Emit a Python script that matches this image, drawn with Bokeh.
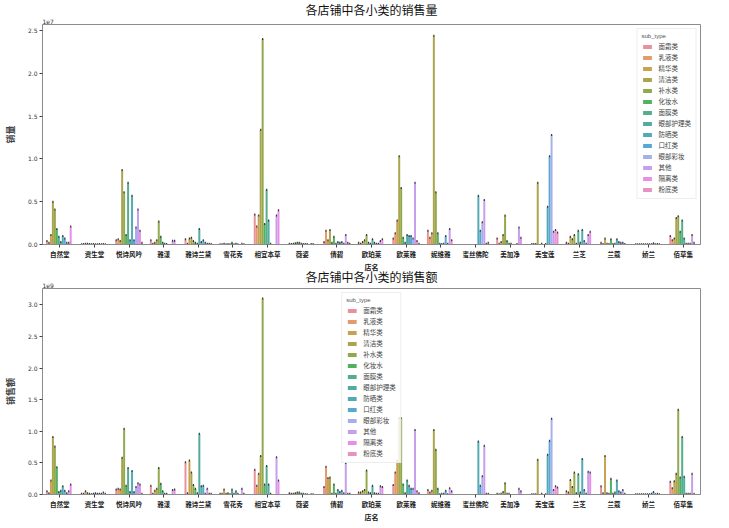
from bokeh.plotting import figure
from bokeh.models import (ColumnDataSource, FixedTicker, Legend, LegendItem, Title,
                          Range1d, NumeralTickFormatter)
from bokeh.layouts import column
from bokeh.embed import file_html
from bokeh.resources import INLINE

stores = ["自然堂", "资生堂", "悦诗风吟", "雅漾", "雅诗兰黛", "雪花秀", "相宜本草", "薇姿",
          "倩碧", "欧珀莱", "欧莱雅", "妮维雅", "蜜丝佛陀", "美加净", "美宝莲", "兰芝",
          "兰蔻", "娇兰", "佰草集"]

sub_types = ["面霜类", "乳液类", "精华类", "清洁类", "补水类", "化妆水", "面膜类",
             "眼部护理类", "防晒类", "口红类", "眼部彩妆", "其他", "隔离类", "粉底类"]

colors = ["#e8919c", "#e39a6c", "#c8a152", "#aba44c", "#90a94d", "#52b161", "#54ad8c",
          "#51ab9f", "#53aab4", "#5aa7d4", "#a4b0ec", "#c69eea", "#e78fe7", "#e693c1"]

# 销量 (units of 1e7), one row per store, one column per sub_type
volume = [
    [0.04, 0.02, 0.11, 0.50, 0.41, 0.18, 0.09, 0.03, 0.10, 0.07, 0.02, 0.02, 0.21, 0],
    [0.003, 0.005, 0.01, 0.01, 0.005, 0.003, 0.005, 0.003, 0.003, 0.005, 0.003, 0.005, 0.003, 0],
    [0.05, 0.06, 0.04, 0.87, 0.61, 0.11, 0.72, 0.05, 0.57, 0.05, 0.20, 0.41, 0.16, 0.02],
    [0.05, 0.01, 0.02, 0.05, 0.27, 0.09, 0.02, 0.01, 0.005, 0, 0, 0.045, 0.045, 0],
    [0.06, 0.01, 0.07, 0.08, 0.04, 0.02, 0.01, 0.18, 0.03, 0.05, 0.02, 0.01, 0.01, 0.005],
    [0.003, 0.003, 0.01, 0.003, 0.005, 0.002, 0.02, 0.003, 0.01, 0.003, 0, 0.01, 0.003, 0],
    [0.35, 0.21, 0.34, 1.34, 2.40, 0.24, 0.64, 0.28, 0.01, 0, 0, 0.34, 0.40, 0],
    [0.01, 0.005, 0.01, 0.015, 0.02, 0.02, 0.01, 0.005, 0.005, 0.005, 0, 0.005, 0.005, 0],
    [0.03, 0.16, 0.05, 0.17, 0.02, 0.09, 0.01, 0.03, 0.02, 0.03, 0.01, 0.11, 0.02, 0.01],
    [0.02, 0.01, 0.03, 0.05, 0.11, 0.02, 0.01, 0.06, 0.02, 0.01, 0.01, 0.04, 0.06, 0],
    [0.07, 0.13, 0.28, 1.03, 0.66, 0.08, 0.02, 0.11, 0.10, 0.10, 0.07, 0.72, 0.04, 0.01],
    [0.16, 0.08, 0.13, 2.44, 0.61, 0.13, 0.01, 0.005, 0.01, 0.10, 0.01, 0.18, 0.05, 0],
    [0, 0, 0, 0, 0, 0, 0, 0, 0.57, 0.16, 0.26, 0.52, 0.01, 0.02],
    [0.07, 0.01, 0.03, 0.11, 0.34, 0.04, 0.01, 0.01, 0, 0, 0.005, 0.20, 0.08, 0],
    [0.005, 0.005, 0.005, 0.72, 0, 0.01, 0, 0.005, 0.44, 1.03, 1.28, 0.15, 0.17, 0.14],
    [0.02, 0.01, 0.09, 0.06, 0.11, 0.01, 0.16, 0.02, 0.17, 0.04, 0.01, 0.11, 0.15, 0],
    [0.02, 0.005, 0.07, 0.01, 0.005, 0.06, 0.005, 0.01, 0.06, 0.03, 0.02, 0.02, 0.005, 0],
    [0.002, 0.002, 0.002, 0.003, 0.003, 0.002, 0.002, 0.002, 0.003, 0.015, 0.002, 0.005, 0.002, 0],
    [0.10, 0.05, 0.07, 0.31, 0.33, 0.15, 0.28, 0.07, 0.01, 0.01, 0.01, 0.11, 0.02, 0],
]

# 销售额 (units of 1e9)
amount = [
    [0.05, 0.02, 0.22, 0.91, 0.76, 0.43, 0.04, 0.06, 0.13, 0.06, 0.02, 0.05, 0.16, 0],
    [0.01, 0.01, 0.05, 0.02, 0.01, 0.003, 0.01, 0.02, 0.01, 0.01, 0.01, 0.03, 0.01, 0],
    [0.08, 0.09, 0.08, 0.58, 1.04, 0.14, 0.42, 0.04, 0.37, 0.04, 0.12, 0.18, 0.16, 0.01],
    [0.14, 0.01, 0.06, 0.09, 0.42, 0.17, 0.05, 0.01, 0.01, 0, 0, 0.07, 0.08, 0],
    [0.51, 0.02, 0.54, 0.35, 0.15, 0.09, 0.02, 0.96, 0.13, 0.14, 0.01, 0.09, 0.01, 0.01],
    [0.01, 0.01, 0.08, 0.01, 0.02, 0.003, 0.08, 0.01, 0.05, 0.01, 0, 0.09, 0.01, 0],
    [0.39, 0.14, 0.33, 0.61, 3.10, 0.16, 0.45, 0.16, 0.01, 0, 0, 0.59, 0.22, 0],
    [0.02, 0.01, 0.01, 0.02, 0.03, 0.03, 0.01, 0.01, 0.005, 0.005, 0, 0.005, 0.005, 0],
    [0.12, 0.44, 0.26, 0.27, 0.01, 0.16, 0.01, 0.07, 0.04, 0.06, 0.02, 0.50, 0.01, 0.01],
    [0.03, 0.03, 0.05, 0.07, 0.38, 0.03, 0.02, 0.14, 0.02, 0.01, 0.01, 0.13, 0.12, 0],
    [0.15, 0.35, 0.54, 1.21, 1.21, 0.16, 0.02, 0.22, 0.14, 0.09, 0.09, 1.02, 0.05, 0.02],
    [0.07, 0.03, 0.06, 1.02, 0.71, 0.09, 0.003, 0.01, 0.01, 0.06, 0.003, 0.10, 0.05, 0],
    [0, 0, 0, 0, 0, 0, 0, 0, 0.84, 0.14, 0.29, 0.77, 0.01, 0.01],
    [0.01, 0.005, 0.01, 0.04, 0.18, 0.01, 0.01, 0, 0, 0, 0, 0.09, 0.05, 0],
    [0.003, 0.003, 0.003, 0.55, 0, 0.01, 0, 0.003, 0.63, 0.85, 1.20, 0.07, 0.13, 0.11],
    [0.05, 0.03, 0.23, 0.12, 0.35, 0.02, 0.32, 0.03, 0.56, 0.07, 0.01, 0.36, 0.35, 0],
    [0.13, 0.02, 0.61, 0.02, 0.01, 0.25, 0.01, 0.03, 0.22, 0.05, 0.03, 0.07, 0.01, 0],
    [0.005, 0.005, 0.005, 0.005, 0.005, 0.005, 0.005, 0.005, 0.01, 0.04, 0.005, 0.01, 0.005, 0],
    [0.20, 0.10, 0.21, 0.33, 1.34, 0.27, 0.91, 0.28, 0.01, 0.01, 0.01, 0.33, 0.01, 0],
]

CJK = "Noto Sans CJK SC"


def make_chart(title, ylabel, data, exp_text, ymax, yticks, legend_loc, with_xlabel,
               extra_top_text, frame_h, title_standoff):
    p = figure(width=713, frame_height=frame_h, output_backend="svg", toolbar_location=None,
               title=None,
               x_range=Range1d(-0.5, len(stores) - 0.5), y_range=Range1d(0, ymax),
               min_border_left=37, min_border_right=13, min_border_top=0,
               min_border_bottom=0)
    # titles stacked above the frame: first added is nearest to the frame
    p.add_layout(Title(text=exp_text, align="left", text_font="DejaVu Sans",
                       text_font_size="6px", text_font_style="normal",
                       text_color="#333333", standoff=1), "above")
    p.add_layout(Title(text=title, align="center", text_font=CJK, text_font_size="12px",
                       text_font_style="normal", text_color="#111111",
                       standoff=title_standoff), "above")
    if extra_top_text:
        p.add_layout(Title(text=extra_top_text, align="center", text_font=CJK,
                           text_font_size="7px", text_font_style="bold",
                           text_color="#222222", standoff=-4), "above")
    p.xgrid.visible = False
    p.ygrid.visible = False
    p.outline_line_color = "#8c8c8c"
    p.background_fill_color = "white"

    n = len(sub_types)
    w = 0.8 / n
    items = []
    cap_x, cap_y = [], []
    for j, st in enumerate(sub_types):
        xs = [i - 0.4 + w * (j + 0.5) for i in range(len(stores))]
        tops = [row[j] for row in data]
        src = ColumnDataSource(dict(x=xs, top=tops))
        r = p.vbar(x="x", top="top", width=w, source=src, fill_color=colors[j], line_color=None)
        items.append(LegendItem(label=st, renderers=[r]))
        for x, t in zip(xs, tops):
            if t > 0:
                cap_x.append(x)
                cap_y.append(t)
    p.rect(x=cap_x, y=cap_y, width=1.2, height=2, width_units="screen", height_units="screen",
           fill_color="#3a3a3a", line_color=None)

    legend = Legend(items=items, location=legend_loc, title="sub_type")
    legend.title_text_font_size = "6px"
    legend.title_text_color = "#555555"
    legend.title_text_font_style = "normal"
    legend.title_standoff = 2
    legend.label_text_font = CJK
    legend.label_text_font_size = "6.5px"
    legend.label_height = 7
    legend.label_standoff = 6
    legend.glyph_height = 5
    legend.glyph_width = 11
    legend.spacing = 1
    legend.padding = 4
    legend.margin = 4
    legend.border_line_color = "#dddddd"
    legend.background_fill_alpha = 0.85
    p.add_layout(legend)

    # axes
    p.xaxis.ticker = FixedTicker(ticks=list(range(len(stores))))
    p.xaxis.major_label_overrides = {i: s for i, s in enumerate(stores)}
    p.yaxis.ticker = FixedTicker(ticks=yticks)
    p.yaxis.formatter = NumeralTickFormatter(format="0.0")
    for ax in (p.xaxis, p.yaxis):
        ax.axis_line_color = "#8c8c8c"
        ax.major_tick_line_color = "#444444"
        ax.major_tick_in = 0
        ax.major_tick_out = 3
        ax.minor_tick_line_color = None
    p.xaxis.major_label_standoff = 1
    p.xaxis.major_label_text_font = CJK
    p.xaxis.major_label_text_font_size = "6.5px"
    p.xaxis.major_label_text_font_style = "bold"
    p.xaxis.major_label_text_color = "#222222"
    p.yaxis.major_label_text_color = "#333333"
    p.yaxis.major_label_standoff = 2
    p.yaxis.major_label_text_font = "DejaVu Sans"
    p.yaxis.major_label_text_font_size = "6px"
    p.yaxis.axis_label = ylabel
    p.yaxis.axis_label_text_font = CJK
    p.yaxis.axis_label_text_font_size = "9px"
    p.yaxis.axis_label_text_font_style = "bold"
    p.yaxis.axis_label_standoff = 8
    if with_xlabel:
        p.xaxis.axis_label = "店名"
        p.xaxis.axis_label_text_font = CJK
        p.xaxis.axis_label_text_font_size = "7px"
        p.xaxis.axis_label_text_font_style = "bold"
        p.xaxis.axis_label_text_color = "#222222"
        p.xaxis.axis_label_standoff = 0
    return p


# the upper chart's x-axis title sits in the gap between the two charts
p1 = make_chart("各店铺中各小类的销售量", "销量", volume, "1e7", 2.57,
                [0, 0.5, 1.0, 1.5, 2.0, 2.5], "top_right", False, None, 220, -3)
p2 = make_chart("各店铺中各小类的销售额", "销售额", amount, "1e9", 3.26,
                [0, 0.5, 1.0, 1.5, 2.0, 2.5, 3.0], "top_center", True, "店名", 206, -8)

layout = column(p1, p2, spacing=0)
open("out.html", "w").write(file_html(layout, INLINE))
